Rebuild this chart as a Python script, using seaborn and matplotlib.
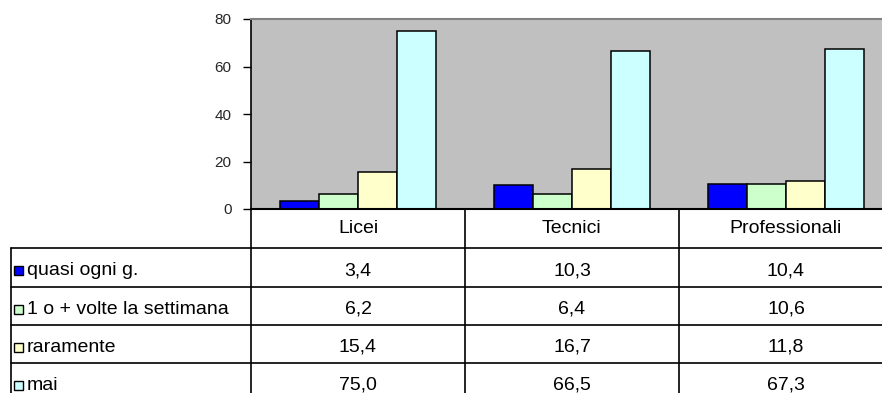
import matplotlib
matplotlib.use("Agg")
import matplotlib.pyplot as plt
from matplotlib.lines import Line2D
from matplotlib.patches import Rectangle
import seaborn as sns
import pandas as pd

categories = ["Licei", "Tecnici", "Professionali"]
series = ["quasi ogni g.", "1 o + volte la settimana", "raramente", "mai"]
quasi_ogni_g = [3.4, 10.3, 10.4]
volte_settimana = [6.2, 6.4, 10.6]
raramente = [15.4, 16.7, 11.8]
mai = [75.0, 66.5, 67.3]
colors = ["#0000FF", "#CCFFCC", "#FFFFCC", "#CCFFFF"]
y_ticks = [0, 20, 40, 60, 80]

values = [quasi_ogni_g, volte_settimana, raramente, mai]
df = pd.DataFrame(
    [(c, s, v[i]) for s, v in zip(series, values) for i, c in enumerate(categories)],
    columns=["categoria", "frequenza", "valore"],
)

sns.set_theme(style="white")
plt.rcParams["font.family"] = ["Liberation Sans", "DejaVu Sans"]

W, H = 882, 393
fig = plt.figure(figsize=(W / 100, H / 100), dpi=100)

TABLE_FS = 14
TICK_FS = 11

# plot area in pixel coordinates
x_left, x_right = 251, 893
y_top, y_zero = 19, 209
ax = fig.add_axes([x_left / W, 1 - y_zero / H, (x_right - x_left) / W, (y_zero - y_top) / H])
ax.set_facecolor("#C0C0C0")

sns.barplot(data=df, x="categoria", y="valore", hue="frequenza", order=categories,
            hue_order=series, palette=colors, width=0.73, edgecolor="black",
            linewidth=1.1, saturation=1, ax=ax, legend=False)

ax.set_ylim(0, 80)
ax.set_xlim(-0.5, len(categories) - 0.5)
ax.set_yticks(y_ticks)
ax.set_yticklabels([str(t) for t in y_ticks], fontsize=TICK_FS)
ax.set_xticks([])
ax.set_xlabel("")
ax.set_ylabel("")
ax.tick_params(axis="y", direction="out", length=6, width=1, color="black", pad=8, left=True)
ax.spines["right"].set_visible(False)
ax.spines["top"].set_color("#808080")
ax.spines["top"].set_linewidth(1.5)
ax.spines["left"].set_color("black")
ax.spines["left"].set_linewidth(1.2)
ax.spines["bottom"].set_color("black")
ax.spines["bottom"].set_linewidth(1.5)


def fx(px):
    return px / W


def fy(py):
    return 1 - py / H


def hline(x0, x1, y, lw=1.2):
    fig.add_artist(Line2D([fx(x0), fx(x1)], [fy(y), fy(y)], color="black", lw=lw,
                          transform=fig.transFigure))


def vline(x, y0, y1, lw=1.2):
    fig.add_artist(Line2D([fx(x), fx(x)], [fy(y0), fy(y1)], color="black", lw=lw,
                          transform=fig.transFigure))


# data table beneath the chart
col_edges = [251, 465, 679, 893]
row_edges = [209, 248, 287, 325, 363, 401]
table_left = 11

for y in row_edges[1:]:
    hline(table_left, 893, y)
for x in col_edges:
    vline(x, row_edges[0], 401)
vline(table_left, row_edges[1], 401)

for i, c in enumerate(categories):
    xc = (col_edges[i] + col_edges[i + 1]) / 2
    fig.text(fx(xc), fy((row_edges[0] + row_edges[1]) / 2), c, ha="center", va="center",
             fontsize=TABLE_FS, color="black")

for r, (s, v, col) in enumerate(zip(series, values, colors)):
    yc = (row_edges[r + 1] + row_edges[r + 2]) / 2 + 3
    fig.add_artist(Rectangle((fx(14), fy(yc + 4.5)), 9 / W, 9 / H, facecolor=col,
                             edgecolor="black", lw=1.0, transform=fig.transFigure))
    fig.text(fx(27), fy(yc), s, ha="left", va="center", fontsize=TABLE_FS, color="black")
    for i, val in enumerate(v):
        xc = (col_edges[i] + col_edges[i + 1]) / 2
        fig.text(fx(xc), fy(yc), f"{val:.1f}".replace(".", ","), ha="center", va="center",
                 fontsize=TABLE_FS, color="black")

fig.savefig("out.png", dpi=100, facecolor="white")
